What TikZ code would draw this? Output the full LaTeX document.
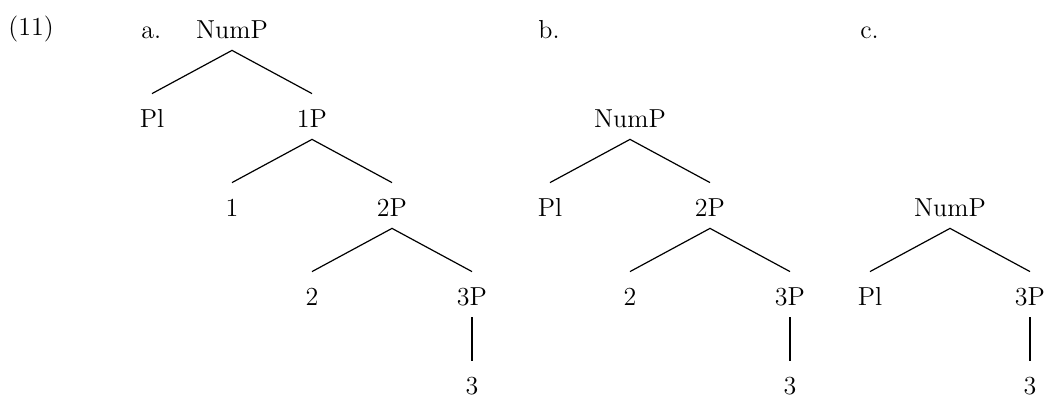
\documentclass[tikz,border=0pt]{standalone}
\usepackage{tikz}
\tikzset{
  lab/.style={anchor=base west,inner sep=0pt},
  cat/.style={anchor=base,inner sep=0pt,text height=17pt,text depth=5.5pt},
  branch/.style={line width=0.6pt}
}

\begin{document}
\begin{tikzpicture}[x=0.5pt,y=-0.5pt,font=\fontsize{13}{15}\selectfont]
  \useasboundingbox (0,0) rectangle (1047,399);
  % example number and sub-labels
  \node[lab] (ex) at (8,36) {(11)};
  \node[lab] (la) at (141,39) {a.};
  \node[lab] (lb) at (538,39) {b.};
  \node[lab] (lc) at (860,39) {c.};
  % tree a
  \node[cat] (aNum) at (232,39) {NumP};
  \node[cat] (aPl) at (152,128) {Pl};
  \node[cat] (a1P) at (312,128) {1P};
  \node[cat] (a1) at (232,217) {1};
  \node[cat] (a2P) at (392,217) {2P};
  \node[cat] (a2) at (312,306) {2};
  \node[cat] (a3P) at (472,306) {3P};
  \node[cat] (a3) at (472,395) {3};
  \draw[branch] (aPl.north) -- (aNum.south) -- (a1P.north);
  \draw[branch] (a1.north) -- (a1P.south) -- (a2P.north);
  \draw[branch] (a2.north) -- (a2P.south) -- (a3P.north);
  \draw[branch] (a3P.south) -- (a3.north);
  % tree b
  \node[cat] (bNum) at (630,128) {NumP};
  \node[cat] (bPl) at (550,217) {Pl};
  \node[cat] (b2P) at (710,217) {2P};
  \node[cat] (b2) at (630,306) {2};
  \node[cat] (b3P) at (790,306) {3P};
  \node[cat] (b3) at (790,395) {3};
  \draw[branch] (bPl.north) -- (bNum.south) -- (b2P.north);
  \draw[branch] (b2.north) -- (b2P.south) -- (b3P.north);
  \draw[branch] (b3P.south) -- (b3.north);
  % tree c
  \node[cat] (cNum) at (950,217) {NumP};
  \node[cat] (cPl) at (870,306) {Pl};
  \node[cat] (c3P) at (1030,306) {3P};
  \node[cat] (c3) at (1030,395) {3};
  \draw[branch] (cPl.north) -- (cNum.south) -- (c3P.north);
  \draw[branch] (c3P.south) -- (c3.north);
\end{tikzpicture}
\end{document}
